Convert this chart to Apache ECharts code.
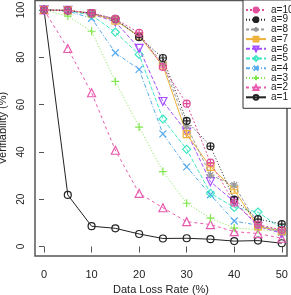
<!DOCTYPE html>
<html>
<head>
<meta charset="utf-8">
<script src="https://cdn.jsdelivr.net/npm/echarts@6/dist/echarts.min.js"></script>
<style>
html,body{margin:0;padding:0;background:#fff;}
#chart{width:291px;height:295px;}
</style>
</head>
<body>
<div id="chart"></div>
<script>
const lossRates = [0, 5, 10, 15, 20, 25, 30, 35, 40, 45, 50];
const xTicks = [0, 10, 20, 30, 40, 50];
const yTicks = [0, 20, 40, 60, 80, 100];
const seriesNames = ['a=1','a=2','a=3','a=4','a=5','a=6','a=7','a=8','a=9','a=10'];
const a1  = [100, 21.8, 8.6, 7.7, 5.3, 3.4, 3.5, 3.1, 2.3, 2.5, 1.4];
const a2  = [100, 83.7, 65.0, 40.7, 22.5, 16.4, 10.5, 9.3, 6.3, 5.5, 3.5];
const a3  = [100, 97.4, 91.0, 69.8, 50.5, 31.7, 18.3, 12.0, 7.8, 7.2, 6.5];
const a4  = [100, 99.5, 96.5, 81.9, 74.9, 47.6, 33.7, 21.9, 10.8, 9.0, 6.0];
const a5  = [100, 99.7, 97.8, 90.6, 81.2, 53.9, 41.1, 22.5, 16.5, 14.6, 7.5];
const a6  = [100, 99.8, 98.3, 95.0, 83.8, 61.3, 48.4, 27.4, 19.0, 8.5, 5.6];
const a7  = [100, 99.8, 98.5, 95.5, 89.0, 76.5, 47.5, 33.7, 24.0, 8.5, 6.5];
const a8  = [100, 99.8, 98.5, 95.8, 89.0, 77.5, 51.0, 30.2, 26.0, 9.0, 6.5];
const a9  = [100, 99.8, 98.7, 96.2, 88.5, 79.7, 53.1, 42.4, 19.8, 11.6, 9.5];
const a10 = [100, 99.8, 98.7, 96.2, 90.3, 75.9, 60.4, 35.5, 18.5, 9.3, 7.0];
const allValues = [a1, a2, a3, a4, a5, a6, a7, a8, a9, a10];

const colors = ['#222222','#E85AAE','#80E64D','#55AAEE','#3EE6C4','#A64DFF','#EEB23A','#9A9A9A','#222222','#E0509C'];
const dashes = ['solid',[3,3],[1,2],[4,2,1,2],[4,2],[4,2],'solid',[3,2],[1,2],[2,2]];
const P = {
  circle: 'path://M0,5A5,5 0 1,1 10,5A5,5 0 1,1 0,5Z',
  tri: 'path://M5,0L10,8.7L0,8.7Z',
  plus: 'path://M5,0L5,10M0,5L10,5',
  cross: 'path://M0,0L10,10M10,0L0,10',
  diamond: 'path://M5,0L10,5L5,10L0,5Z',
  dtri: 'path://M0,0L10,0L5,8.7Z',
  sqplus: 'path://M0,0L10,0L10,10L0,10ZM5,0L5,10M0,5L10,5',
  star: 'path://M5,0L5,10M0,5L10,5M1.5,1.5L8.5,8.5M8.5,1.5L1.5,8.5',
  cplus: 'path://M0,5A5,5 0 1,1 10,5A5,5 0 1,1 0,5ZM5,0L5,10M0,5L10,5'
};
const symbols = [P.circle, P.tri, P.plus, P.cross, P.diamond, P.dtri, P.sqplus, P.star, P.cplus, P.cplus];
const sizes = [7, 8, 8, 7, 8, 8, 7, 8, 7, 7];

const series = seriesNames.map((name, i) => ({
  name: name,
  type: 'line',
  data: lossRates.map((x, j) => [x, allValues[i][j]]),
  symbol: symbols[i],
  symbolSize: sizes[i],
  showSymbol: true,
  lineStyle: { color: colors[i], width: 1, type: dashes[i] },
  itemStyle: { color: 'rgba(0,0,0,0)', borderColor: colors[i], borderWidth: 1.2 },
  emphasis: { disabled: true },
  z: 2 + i
}));

const chart = echarts.init(document.getElementById('chart'), null, { renderer: 'canvas' });
chart.setOption({
  animation: false,
  backgroundColor: '#fff',
  textStyle: { fontFamily: 'Liberation Sans, Arial, sans-serif' },
  grid: { left: 35, top: 0.5, width: 252, height: 255.5, show: true, borderColor: '#555', borderWidth: 1.5, backgroundColor: 'transparent', containLabel: false, outerBoundsMode: 'none' },
  legend: {
    data: seriesNames.slice().reverse(),
    orient: 'vertical',
    left: 243,
    top: 0,
    itemWidth: 20,
    itemHeight: 6,
    itemGap: -0.3,
    padding: [5, 4, 6, 2],
    borderColor: '#333',
    borderWidth: 1,
    backgroundColor: '#fff',
    textStyle: { fontSize: 10, color: '#222', fontFamily: 'Liberation Sans, Arial, sans-serif' },
    selectedMode: false,
    z: 20
  },
  xAxis: {
    type: 'value',
    min: -1.9,
    max: 51.1,
    name: 'Data Loss Rate (%)',
    nameLocation: 'middle',
    nameGap: 23,
    nameTextStyle: { fontSize: 11, color: '#222' },
    axisLine: { show: false },
    axisTick: { show: true, inside: false, length: 6, lineStyle: { color: '#555', width: 1 }, customValues: xTicks },
    axisLabel: { fontSize: 11, color: '#222', margin: 13, customValues: xTicks },
    splitLine: { show: false }
  },
  yAxis: {
    type: 'value',
    min: -4,
    max: 104,
    name: 'Verifiability (%)',
    nameLocation: 'middle',
    nameRotate: 90,
    nameGap: 19,
    nameTextStyle: { fontSize: 11, color: '#222' },
    axisLine: { show: false },
    axisTick: { show: true, inside: false, length: 5, lineStyle: { color: '#555', width: 1 }, customValues: yTicks },
    axisLabel: { fontSize: 10, color: '#222', margin: 9, rotate: 90, customValues: yTicks },
    splitLine: { show: false }
  },
  series: series
});
</script>
</body>
</html>
